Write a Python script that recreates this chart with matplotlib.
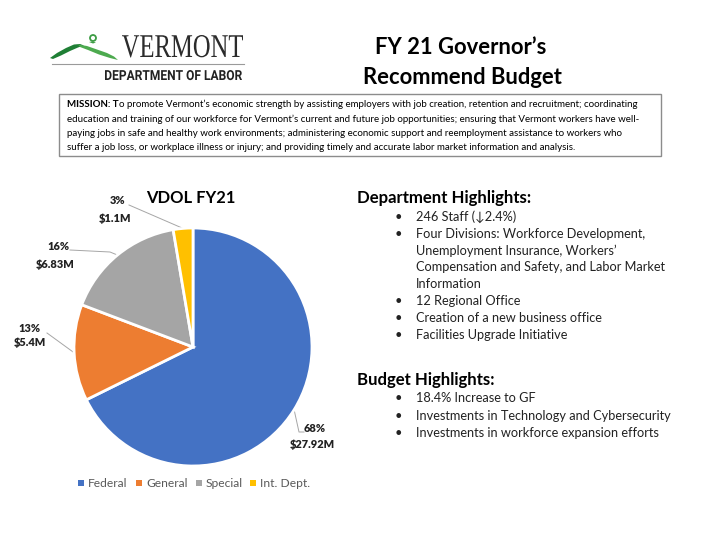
import matplotlib
matplotlib.use("Agg")
import matplotlib.pyplot as plt
from matplotlib.patches import Rectangle, Polygon, Circle, PathPatch
from matplotlib.textpath import TextPath
from matplotlib.font_manager import FontProperties
from matplotlib.transforms import Affine2D
import numpy as np

plt.rcParams['font.family'] = ['Lato', 'DejaVu Sans']

# ---- data ----
categories = ["Federal", "General", "Special", "Int. Dept."]
values = [27.92, 5.4, 6.83, 1.1]
pct_labels = ["68%", "13%", "16%", "3%"]
amt_labels = ["$27.92M", "$5.4M", "$6.83M", "$1.1M"]
colors = ["#4472C4", "#ED7D31", "#A5A5A5", "#FFC000"]

dept_items = [
    ["246 Staff (\u21932.4%)"],
    ["Four Divisions: Workforce Development,", "Unemployment Insurance, Workers\u2019",
     "Compensation and Safety, and Labor Market", "Information"],
    ["12 Regional Office"],
    ["Creation of a new business office"],
    ["Facilities Upgrade Initiative"],
]
budget_items = [
    "18.4% Increase to GF",
    "Investments in Technology and Cybersecurity",
    "Investments in workforce expansion efforts",
]
mission_lines = [
    "o promote Vermont\u2019s economic strength by assisting employers with job creation, retention and recruitment; coordinating",
    "education and training of our workforce for Vermont\u2019s current and future job opportunities; ensuring that Vermont workers have well-",
    "paying jobs in safe and healthy work environments; administering economic support and reemployment assistance to workers who",
    "suffer a job loss, or workplace illness or injury; and providing timely and accurate labor market information and analysis.",
]

W, H = 720, 540
fig = plt.figure(figsize=(7.2, 5.4), dpi=100)
bg = fig.add_axes([0, 0, 1, 1])
bg.set_xlim(0, W)
bg.set_ylim(H, 0)
bg.axis('off')

def px(p):
    return p / (100 / 72)

def fit_text(s, x0, x1, y_base, cap_h, family, weight="normal", color="black"):
    tp = TextPath((0, 0), s, size=100, prop=FontProperties(family=family, weight=weight))
    ext = tp.get_extents()
    sx = (x1 - x0) / ext.width
    sy = cap_h / ext.y1
    tr = Affine2D().translate(-ext.x0, 0).scale(sx, -sy).translate(x0, y_base)
    bg.add_patch(PathPatch(tr.transform_path(tp), color=color, lw=0))

# ---- logo ----
bg.add_patch(Polygon([(50, 58), (57, 53), (66, 48), (74, 44.5), (80, 44), (84, 45.5), (78, 47.5),
                      (70, 51), (61, 55.5), (53, 59)], closed=True, color="#1F7F35", lw=0))
bg.add_patch(Polygon([(78, 44.5), (87, 46), (97, 49.5), (107, 53), (114, 56.5), (118, 60),
                      (110, 58), (99, 54.5), (88, 50), (80, 47)], closed=True, color="#4DAA4F", lw=0))
bg.add_patch(Circle((93, 38), 3.0, fill=False, ec="#3C9C44", lw=1.3))
bg.add_patch(Polygon([(89, 42), (92, 41.5), (96, 42.5), (93, 43.5)], closed=True, color="#3C9C44", lw=0))
fit_text("VERMONT", 122, 243, 57, 22, "Liberation Serif", color="#2B2B2B")
bg.plot([52, 244], [64, 64], color="#9A9A9A", lw=0.8)
fit_text("DEPARTMENT OF LABOR", 105, 242, 80, 10, "Roboto", weight="bold", color="#222222")

# ---- heading ----
bg.text(461, 47, "FY 21 Governor\u2019s", fontsize=px(22), fontweight="bold", ha="center", va="center", color="black")
bg.text(462, 77, "Recommend Budget", fontsize=px(22), fontweight="bold", ha="center", va="center", color="black")

# ---- mission box ----
bg.add_patch(Rectangle((59, 94), 602, 62, fill=False, ec="#8C8C8C", lw=1.0))
fig.canvas.draw()
r = fig.canvas.get_renderer()
mfs = px(9.78)
t0 = bg.text(67, 104.5, "MISSION: T", fontsize=mfs, fontweight="bold", ha="left", va="center", color="black")
bb = t0.get_window_extent(renderer=r)
x_end = bb.x1
ys = [104.5, 119, 133.5, 148]
bg.text(x_end, ys[0], mission_lines[0], fontsize=mfs, ha="left", va="center", color="black")
for yy, ln in zip(ys[1:], mission_lines[1:]):
    bg.text(67, yy, ln, fontsize=mfs, ha="left", va="center", color="black")

# ---- right column ----
hfs = px(16.8)
bfs = px(12.7)
bg.text(357, 198, "Department Highlights:", fontsize=hfs, fontweight="bold", ha="left", va="center")
y = 217
step = 16.8
for item in dept_items:
    bg.text(398, y, "\u2022", fontsize=bfs, ha="center", va="center", color="#222222")
    for ln in item:
        bg.text(416, y, ln, fontsize=bfs, ha="left", va="center", color="#222222")
        y += step
bg.text(357, 380, "Budget Highlights:", fontsize=hfs, fontweight="bold", ha="left", va="center")
y = 398
for ln in budget_items:
    bg.text(398, y, "\u2022", fontsize=bfs, ha="center", va="center", color="#222222")
    bg.text(416, y, ln, fontsize=bfs, ha="left", va="center", color="#222222")
    y += step + 0.7

# ---- pie ----
cx, cy, R = 193, 347, 119
ax = fig.add_axes([(cx - R) / W, (H - cy - R) / H, 2 * R / W, 2 * R / H])
wedges, _ = ax.pie(values, colors=colors, startangle=90, counterclock=False, radius=1,
                   wedgeprops=dict(edgecolor="white", linewidth=2))
ax.set_xlim(-1, 1)
ax.set_ylim(-1, 1)
ax.axis('off')

bg.text(191, 198, "VDOL FY21", fontsize=px(16.5), fontweight="bold", ha="center", va="center")

# label positions (pixels) and leader line points
label_pos = {0: [(315, 429), (312, 445)], 1: [(29, 328), (30, 343)],
             2: [(58, 247), (55, 264)], 3: [(118, 201), (115, 218)]}
line_pts = {
    0: [(304, 432), (299, 432)],
    1: [(47, 333)],
    2: [(70, 250), (110, 252)],
    3: [(129, 205)],
}
for i, w in enumerate(wedges):
    th = np.deg2rad((w.theta1 + w.theta2) / 2)
    ex, ey = cx + R * np.cos(th), cy - R * np.sin(th)
    pts = line_pts[i] + [(ex, ey)]
    bg.plot([p[0] for p in pts], [p[1] for p in pts], color="#A6A6A6", lw=0.7)
    (px1, py1), (px2, py2) = label_pos[i]
    bg.text(px1, py1, pct_labels[i], fontsize=px(11), fontweight="heavy", ha="center", va="center", color="#222222")
    bg.text(px2, py2, amt_labels[i], fontsize=px(11), fontweight="heavy", ha="center", va="center", color="#222222")

# legend
lx = [81, 139, 199, 253]
for x0, c, name in zip(lx, colors, categories):
    bg.add_patch(Rectangle((x0 - 3, 480), 6, 6, color=c, lw=0))
    bg.text(x0 + 7, 483.5, name, fontsize=px(12), ha="left", va="center", color="#595959")

fig.savefig("out.png", dpi=100)
